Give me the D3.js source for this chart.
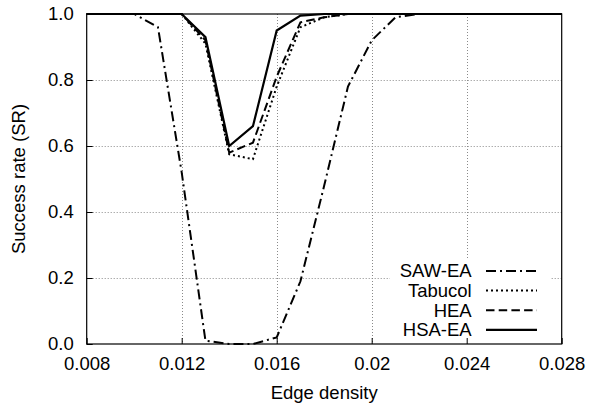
<!DOCTYPE html>
<html>
<head>
<meta charset="utf-8">
<script src="https://cdn.jsdelivr.net/npm/d3@7"></script>
<style>
  html, body { margin: 0; padding: 0; background: #fff; }
  svg text { font-family: "Liberation Sans", Arial, Helvetica, sans-serif; fill: #000; }
</style>
</head>
<body>
<svg id="chart" width="596" height="408"></svg>
<script>
// Edge density values sampled along the x axis
const density = [0.008, 0.009, 0.010, 0.011, 0.012, 0.013, 0.014, 0.015, 0.016, 0.017,
                 0.018, 0.019, 0.020, 0.021, 0.022, 0.023, 0.024, 0.025, 0.026, 0.027, 0.028];

// Success rate per algorithm
const sawEA   = [1, 1, 1, 0.96, 0.52, 0.01, 0.0, 0.0, 0.02, 0.19, 0.48, 0.78, 0.92, 0.99, 1, 1, 1, 1, 1, 1, 1];
const tabucol = [1, 1, 1, 1, 1, 0.91, 0.575, 0.56, 0.78, 0.96, 0.99, 1, 1, 1, 1, 1, 1, 1, 1, 1, 1];
const hea     = [1, 1, 1, 1, 1, 0.92, 0.58, 0.61, 0.81, 0.975, 0.99, 1, 1, 1, 1, 1, 1, 1, 1, 1, 1];
const hsaEA   = [1, 1, 1, 1, 1, 0.93, 0.60, 0.66, 0.95, 0.995, 1, 1, 1, 1, 1, 1, 1, 1, 1, 1, 1];

const seriesNames = ["SAW-EA", "Tabucol", "HEA", "HSA-EA"];
const xTickValues = [0.008, 0.012, 0.016, 0.020, 0.024, 0.028];
const xTickLabels = ["0.008", "0.012", "0.016", "0.02", "0.024", "0.028"];
const yTickValues = [0, 0.2, 0.4, 0.6, 0.8, 1.0];
const yTickLabels = ["0.0", "0.2", "0.4", "0.6", "0.8", "1.0"];

const series = [
  { name: seriesNames[0], values: sawEA,   dash: "10,4,2,4", width: 2 },
  { name: seriesNames[1], values: tabucol, dash: "2,3",      width: 2 },
  { name: seriesNames[2], values: hea,     dash: "8.5,4.2",  width: 2 },
  { name: seriesNames[3], values: hsaEA,   dash: null,       width: 2.2 }
];

const plot = { left: 86.7, right: 561.7, top: 14, bottom: 344 };
const fontSize = "18.5px";

const x = d3.scaleLinear().domain([0.008, 0.028]).range([plot.left, plot.right]);
const y = d3.scaleLinear().domain([0, 1]).range([plot.bottom, plot.top]);

const svg = d3.select("#chart");

// grid
const grid = svg.append("g")
  .attr("stroke", "#8a8a8a").attr("stroke-width", 1).attr("stroke-dasharray", "1,2");
grid.selectAll(".gx").data(xTickValues.slice(1, -1)).enter().append("line")
  .attr("x1", d => Math.round(x(d)) + 0.5).attr("x2", d => Math.round(x(d)) + 0.5)
  .attr("y1", plot.top).attr("y2", plot.bottom);
grid.selectAll(".gy").data(yTickValues.slice(1, -1)).enter().append("line")
  .attr("y1", d => Math.round(y(d)) + 0.5).attr("y2", d => Math.round(y(d)) + 0.5)
  .attr("x1", plot.left).attr("x2", plot.right);

// legend background hides the grid behind the key
const legend = { right: 471.7, sampleX1: 486, sampleX2: 537, rowY0: 271, rowStep: 19.6 };
svg.append("rect")
  .attr("x", 390).attr("y", 259).attr("width", 160).attr("height", plot.bottom - 259)
  .attr("fill", "#fff");

// axes: ticks and labels via d3 axes
const xAxis = d3.axisBottom(x).tickValues(xTickValues)
  .tickFormat((d, i) => xTickLabels[i]).tickSize(-6).tickPadding(13);
const yAxis = d3.axisLeft(y).tickValues(yTickValues)
  .tickFormat((d, i) => yTickLabels[i]).tickSize(-6).tickPadding(13);

function styleAxis(g) {
  g.select(".domain").remove();
  g.selectAll(".tick line").attr("stroke", "#000").attr("stroke-width", 1);
  g.selectAll("text").style("font-size", fontSize)
    .style("font-family", "'Liberation Sans', Arial, Helvetica, sans-serif").attr("fill", "#000");
}
svg.append("g").attr("transform", `translate(0,${plot.bottom})`).call(xAxis).call(styleAxis)
  .selectAll("text").attr("dy", "0.71em");
svg.append("g").attr("transform", `translate(${plot.left},0)`).call(yAxis).call(styleAxis);

// data lines
const line = d3.line().x((d, i) => x(density[i])).y(d => y(d));
svg.append("g").selectAll("path").data(series).enter().append("path")
  .attr("d", s => line(s.values))
  .attr("fill", "none").attr("stroke", "#000")
  .attr("stroke-width", s => s.width)
  .attr("stroke-dasharray", s => s.dash)
  .attr("stroke-linejoin", "miter");

// frame
svg.append("rect")
  .attr("x", plot.left).attr("y", plot.top)
  .attr("width", plot.right - plot.left).attr("height", plot.bottom - plot.top)
  .attr("fill", "none").attr("stroke", "#000").attr("stroke-width", 1.2);

// key
const rows = svg.append("g").selectAll("g").data(series).enter().append("g")
  .attr("transform", (s, i) => `translate(0,${legend.rowY0 + i * legend.rowStep})`);
rows.append("text")
  .attr("x", legend.right).attr("y", 0).attr("dy", "0.35em")
  .attr("text-anchor", "end").style("font-size", fontSize)
  .text(s => s.name);
rows.append("line")
  .attr("x1", legend.sampleX1).attr("x2", legend.sampleX2)
  .attr("stroke", "#000").attr("stroke-width", s => s.width)
  .attr("stroke-dasharray", s => s.dash);

// axis titles
svg.append("text")
  .attr("x", (plot.left + plot.right) / 2).attr("y", 399)
  .attr("text-anchor", "middle").style("font-size", fontSize)
  .text("Edge density");
svg.append("text")
  .attr("transform", `translate(25,${(plot.top + plot.bottom) / 2}) rotate(-90)`)
  .attr("text-anchor", "middle").style("font-size", fontSize)
  .text("Success rate (SR)");
</script>
</body>
</html>
